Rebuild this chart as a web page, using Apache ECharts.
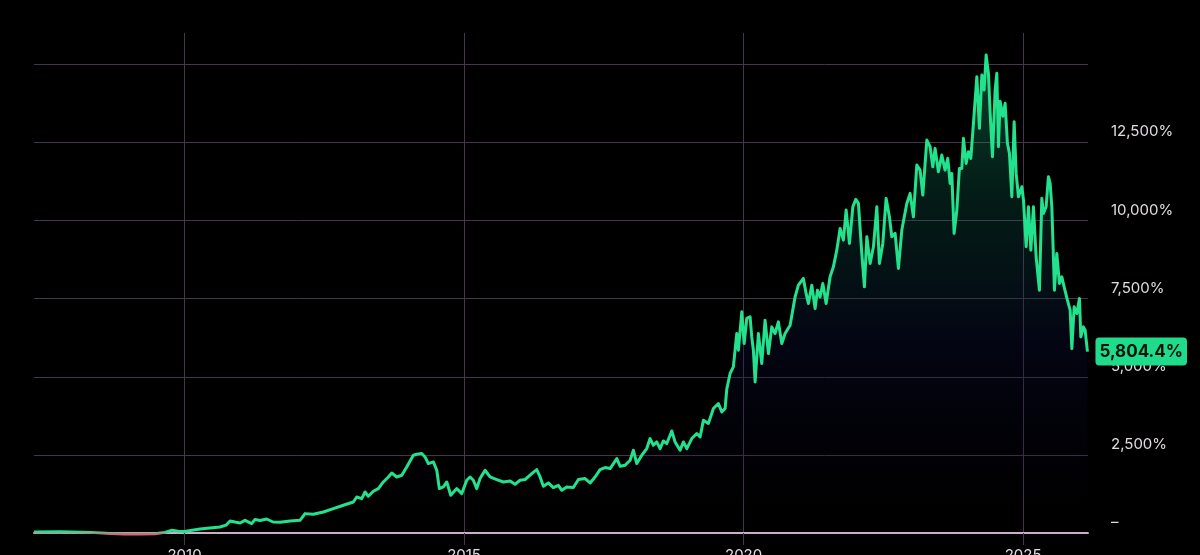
<!DOCTYPE html>
<html><head><meta charset="utf-8">
<script src="https://cdn.jsdelivr.net/npm/echarts@6/dist/echarts.min.js"></script>
<style>html,body{margin:0;padding:0;background:#000;}#c{width:1200px;height:555px;}</style>
</head><body><div id="c"></div>
<script>
// decimal years
const years = [
2007.308,2007.773,2008.310,2008.667,2008.936,2009.204,2009.472,2009.651,2009.776,2009.884,2010.000,
2010.277,2010.456,2010.635,2010.742,2010.814,2010.903,2010.993,2011.082,2011.202,2011.261,2011.351,2011.470,2011.583,2011.708,2011.887,
2012.066,2012.156,2012.304,2012.483,2012.662,2012.841,2013.020,2013.080,2013.170,2013.229,2013.288,2013.377,2013.467,2013.556,2013.646,2013.707,2013.796,2013.886,2013.975,
2014.093,2014.154,2014.243,2014.302,2014.361,2014.451,2014.512,2014.558,2014.630,2014.691,2014.762,2014.869,2014.959,
2015.048,2015.107,2015.166,2015.227,2015.286,2015.376,2015.465,2015.585,2015.703,2015.823,2015.912,
2016.002,2016.091,2016.211,2016.300,2016.360,2016.419,2016.508,2016.597,2016.687,2016.748,2016.837,2016.955,
2017.045,2017.165,2017.254,2017.343,2017.433,2017.522,2017.612,2017.732,2017.791,2017.880,2017.970,
2018.029,2018.089,2018.179,2018.268,2018.327,2018.386,2018.447,2018.506,2018.565,2018.626,2018.715,2018.774,2018.864,2018.923,2018.984,
2019.073,2019.163,2019.222,2019.281,2019.370,2019.460,2019.549,2019.610,2019.669,2019.699,2019.758,2019.817,2019.878,2019.907,2019.968,
2020.009,2020.057,2020.116,2020.146,2020.175,2020.206,2020.265,2020.325,2020.384,2020.444,2020.504,2020.563,2020.622,2020.683,2020.742,2020.832,2020.921,2020.980,
2021.069,2021.118,2021.159,2021.220,2021.279,2021.320,2021.368,2021.417,2021.476,2021.547,2021.606,2021.667,2021.726,2021.785,2021.834,2021.893,2021.954,
2022.007,2022.054,2022.114,2022.161,2022.204,2022.263,2022.322,2022.383,2022.429,2022.490,2022.549,2022.608,2022.651,2022.710,2022.769,2022.830,2022.919,2022.978,
2023.037,2023.098,2023.157,2023.205,2023.277,2023.336,2023.384,2023.425,2023.484,2023.545,2023.604,2023.652,2023.694,2023.724,2023.765,2023.814,2023.860,2023.903,2023.932,2023.980,
2024.021,2024.064,2024.111,2024.172,2024.218,2024.261,2024.302,2024.338,2024.379,2024.410,2024.451,2024.499,2024.529,2024.558,2024.588,2024.637,2024.678,2024.719,2024.755,2024.798,2024.839,2024.875,2024.916,2024.977,
2025.006,2025.054,2025.095,2025.138,2025.184,2025.232,2025.291,2025.334,2025.363,2025.411,2025.452,2025.483,2025.513,2025.560,2025.602,2025.649,2025.692,2025.733,2025.792,2025.841,2025.871,2025.912,2025.960,
2026.007,2026.032,2026.078,2026.109,2026.150
];
// cumulative return, %
const returns = [
30,40,20,-15,-30,-35,-25,20,90,60,50,
128,160,192,250,384,350,320,406,300,430,400,448,352,342,384,
406,620,598,672,780,887,993,1153,1100,1313,1175,1335,1421,1633,1793,1921,1793,1848,2113,
2488,2520,2542,2434,2222,2274,2008,1421,1473,1633,1207,1421,1262,
1687,1793,1687,1421,1742,2008,1793,1710,1633,1665,1559,
1687,1710,1902,2030,1793,1495,1601,1454,1527,1367,1473,1454,
1710,1742,1601,1793,2030,2094,2062,2382,2136,2168,2328,
2648,2222,2488,2702,3022,2808,2914,2702,2946,2862,3266,2914,2648,2914,2702,
3022,3183,3074,3609,3503,3983,4143,3874,3983,4600,5104,5315,6385,5850,7077,
6064,6865,6917,6276,5850,4835,6385,5424,6811,5744,6596,6385,6756,6064,6385,6650,7556,7931,
8146,7666,7345,7931,7185,7771,7556,7985,7345,8197,8517,9052,9747,9373,10333,9267,10439,
10675,10547,8946,7877,9480,8626,9159,10439,8626,9267,10708,10118,9480,9587,8466,9693,10547,10867,
10118,11773,11613,10814,12574,12360,11720,12308,11560,12094,11613,11988,11187,11507,9587,10333,11667,11667,12628,11827,
12200,11988,13109,14601,12949,14655,14175,15296,14709,13429,12040,14175,14709,12360,13813,13333,13749,12469,12148,10760,13162,11507,10760,11080,
10653,9159,10439,9052,10439,8840,7771,10708,10228,10439,11400,11187,10439,7771,8946,7985,8197,7877,7451,7131,5900,7238,7024,
7505,6276,6596,6490,5804.4
];
const xTicks = [2010, 2015, 2020, 2025];
const xRange = [2007.308, 2026.16];
const yRange = [0, 16000];
const yStep = 2500;

const fmt = v => v.toLocaleString('en-US');
const chart = echarts.init(document.getElementById('c'), null, {renderer: 'canvas'});
const gridCol = '#46364a';
chart.setOption({
  backgroundColor: '#000',
  animation: false,
  grid: {left: 34, right: 112, top: 33, bottom: 22, containLabel: false, outerBoundsMode: 'none'},
  xAxis: {
    type: 'value', min: xRange[0], max: xRange[1],
    axisLine: {show: true, lineStyle: {color: '#cfaccd', width: 2}},
    axisTick: {show: true, customValues: xTicks, length: 12, lineStyle: {color: gridCol}},
    axisLabel: {customValues: xTicks, color: '#e2dbe2', fontSize: 15, fontFamily: 'Inter', margin: 15,
      formatter: v => String(Math.round(v))},
    splitLine: {show: true, customValues: xTicks, lineStyle: {color: gridCol, width: 1}}
  },
  yAxis: {
    type: 'value', position: 'right', min: yRange[0], max: yRange[1], interval: yStep,
    axisLine: {show: false}, axisTick: {show: false},
    axisLabel: {color: '#e2dbe2', fontSize: 15, fontFamily: 'Inter', margin: 23, verticalAlign: 'bottom', padding: [0,0,3,0],
      formatter: v => v === 0 ? '–' : (v >= 15000 ? '' : fmt(v) + '%')},
    splitLine: {show: true, showMaxLine: false, lineStyle: {color: gridCol, width: 1}}
  },
  visualMap: {
    type: 'piecewise', show: false, dimension: 1, seriesIndex: 0,
    pieces: [{min: -2000, max: 0, color: '#e2607a'}, {gt: 0, max: 30000, color: '#22e28e'}],
    outOfRange: {color: '#22e28e'}
  },
  series: [{
    type: 'line',
    data: years.map((y, i) => [y, returns[i]]),
    showSymbol: false, symbol: 'none', clip: false,
    lineStyle: {width: 3, join: 'round'},
    areaStyle: {
      color: new echarts.graphic.LinearGradient(0, 0, 0, 1, [
        {offset: 0, color: 'rgba(30,215,140,0.45)'},
        {offset: 0.3, color: 'rgba(15,110,90,0.35)'},
        {offset: 0.6, color: 'rgba(12,15,60,0.45)'},
        {offset: 0.85, color: 'rgba(5,5,30,0.25)'},
        {offset: 1, color: 'rgba(0,0,0,0)'}
      ])
    },
    endLabel: {
      show: true, distance: 8,
      formatter: p => fmt(p.value[1]) + '%',
      backgroundColor: '#1fdc8c', color: '#041208', fontWeight: 'bold', fontSize: 17,
      fontFamily: 'Inter', padding: [6, 4, 5, 4], borderRadius: 4
    }
  }]
});
</script></body></html>
